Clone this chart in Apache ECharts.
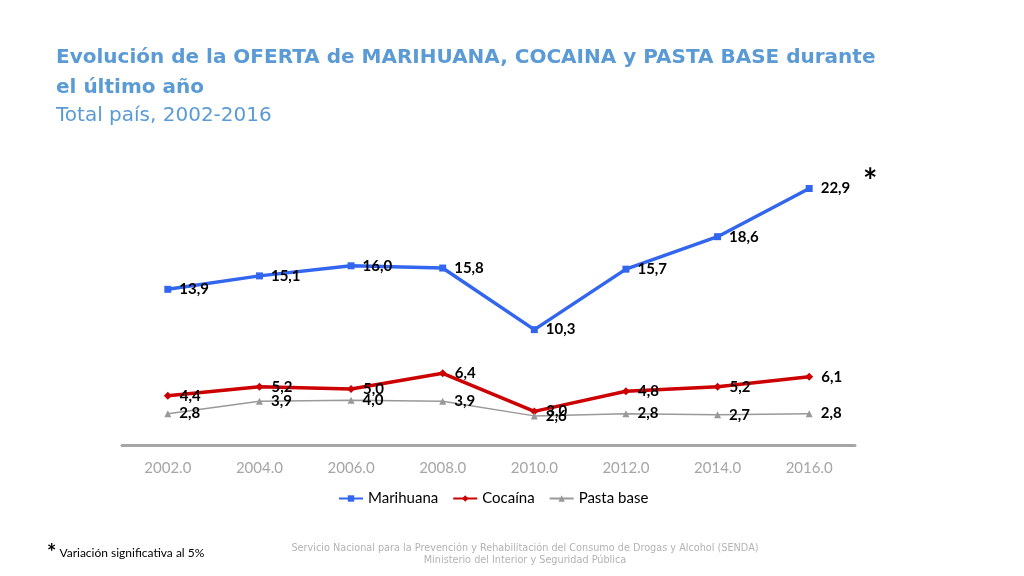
<!DOCTYPE html>
<html>
<head>
<meta charset="utf-8">
<script src="https://cdn.jsdelivr.net/npm/echarts@6/dist/echarts.min.js"></script>
<style>
html, body { margin: 0; padding: 0; background: #fff; }
#container { width: 1024px; height: 576px; }
</style>
</head>
<body>
<div id="container"></div>
<script>
var anios = ['2002.0', '2004.0', '2006.0', '2008.0', '2010.0', '2012.0', '2014.0', '2016.0'];
var marihuana = [13.9, 15.1, 16.0, 15.8, 10.3, 15.7, 18.6, 22.9];
var cocaina = [4.4, 5.2, 5.0, 6.4, 3.0, 4.8, 5.2, 6.1];
var pastaBase = [2.8, 3.9, 4.0, 3.9, 2.6, 2.8, 2.7, 2.8];

var dom = document.getElementById("container");
var myChart = echarts.init(dom);

function etiqueta(p) {
	return p.value.toFixed(1).replace('.', ',');
}

var labelStyle = {
	show: true,
	position: 'right',
	distance: 8,
	formatter: etiqueta,
	color: '#000',
	fontFamily: 'Lato',
	fontWeight: 'bold',
	fontSize: 15
};

var option = {
	animation: false,
	title: [
		{
			text: 'Evolución de la OFERTA de MARIHUANA, COCAINA y PASTA BASE durante\nel último año',
			left: 51,
			top: 38,
			textStyle: { color: '#5b9bd5', fontFamily: 'DejaVu Sans', fontWeight: 'bold', fontSize: 20, lineHeight: 30 }
		},
		{
			text: 'Total país, 2002-2016',
			left: 51,
			top: 101,
			textStyle: { color: '#5b9bd5', fontFamily: 'DejaVu Sans', fontWeight: 'normal', fontSize: 20 }
		},
		{
			text: '*',
			left: 858,
			top: 160,
			textStyle: { color: '#000', fontFamily: 'Lato', fontWeight: 'bold', fontSize: 34 }
		},
		{
			text: '{a|*} Variación significativa al 5%',
			left: 42,
			top: 537,
			textStyle: {
				color: '#000', fontFamily: 'Lato', fontWeight: 'normal', fontSize: 12,
				rich: { a: { fontSize: 22, fontWeight: 'bold', fontFamily: 'Lato', color: '#000' } }
			}
		},
		{
			text: 'Servicio Nacional para la Prevención y Rehabilitación del Consumo de Drogas y Alcohol (SENDA)\nMinisterio del Interior y Seguridad Pública',
			left: 520,
			top: 538,
			textAlign: 'center',
			textStyle: { color: '#b3b3b3', fontFamily: 'DejaVu Sans', fontWeight: 'normal', fontSize: 9.7, lineHeight: 11.5, align: 'center' }
		}
	],
	legend: {
		data: ['Marihuana', 'Cocaína', 'Pasta base'],
		left: 333,
		top: 486,
		itemWidth: 24,
		itemHeight: 8,
		itemGap: 14,
		textStyle: { color: '#000', fontFamily: 'Lato', fontSize: 15 }
	},
	grid: {
		left: 122,
		right: 169,
		top: 165,
		bottom: 131
	},
	xAxis: [
		{
			type: 'category',
			boundaryGap: true,
			data: anios,
			axisLine: { lineStyle: { color: '#a6a6a6', width: 3 } },
			axisTick: { show: false },
			axisLabel: { color: '#a6a6a6', fontFamily: 'Lato', fontSize: 15, margin: 16 }
		}
	],
	yAxis: [
		{
			type: 'value',
			min: 0,
			max: 25,
			interval: 5,
			show: false,
			splitLine: { show: false }
		}
	],
	series: [
		{
			name: 'Marihuana',
			type: 'line',
			data: marihuana,
			symbol: 'rect',
			symbolSize: 7,
			itemStyle: { color: '#3366ee' },
			lineStyle: { width: 3.5, color: '#3366ee' },
			label: labelStyle
		},
		{
			name: 'Cocaína',
			type: 'line',
			data: cocaina,
			symbol: 'diamond',
			symbolSize: 8,
			itemStyle: { color: '#cc0000' },
			lineStyle: { width: 3.5, color: '#cc0000' },
			label: labelStyle
		},
		{
			name: 'Pasta base',
			type: 'line',
			data: pastaBase,
			symbol: 'triangle',
			symbolSize: 7,
			itemStyle: { color: '#999999' },
			lineStyle: { width: 1.5, color: '#999999' },
			label: labelStyle
		}
	]
};

myChart.setOption(option, true);
</script>
</body>
</html>
